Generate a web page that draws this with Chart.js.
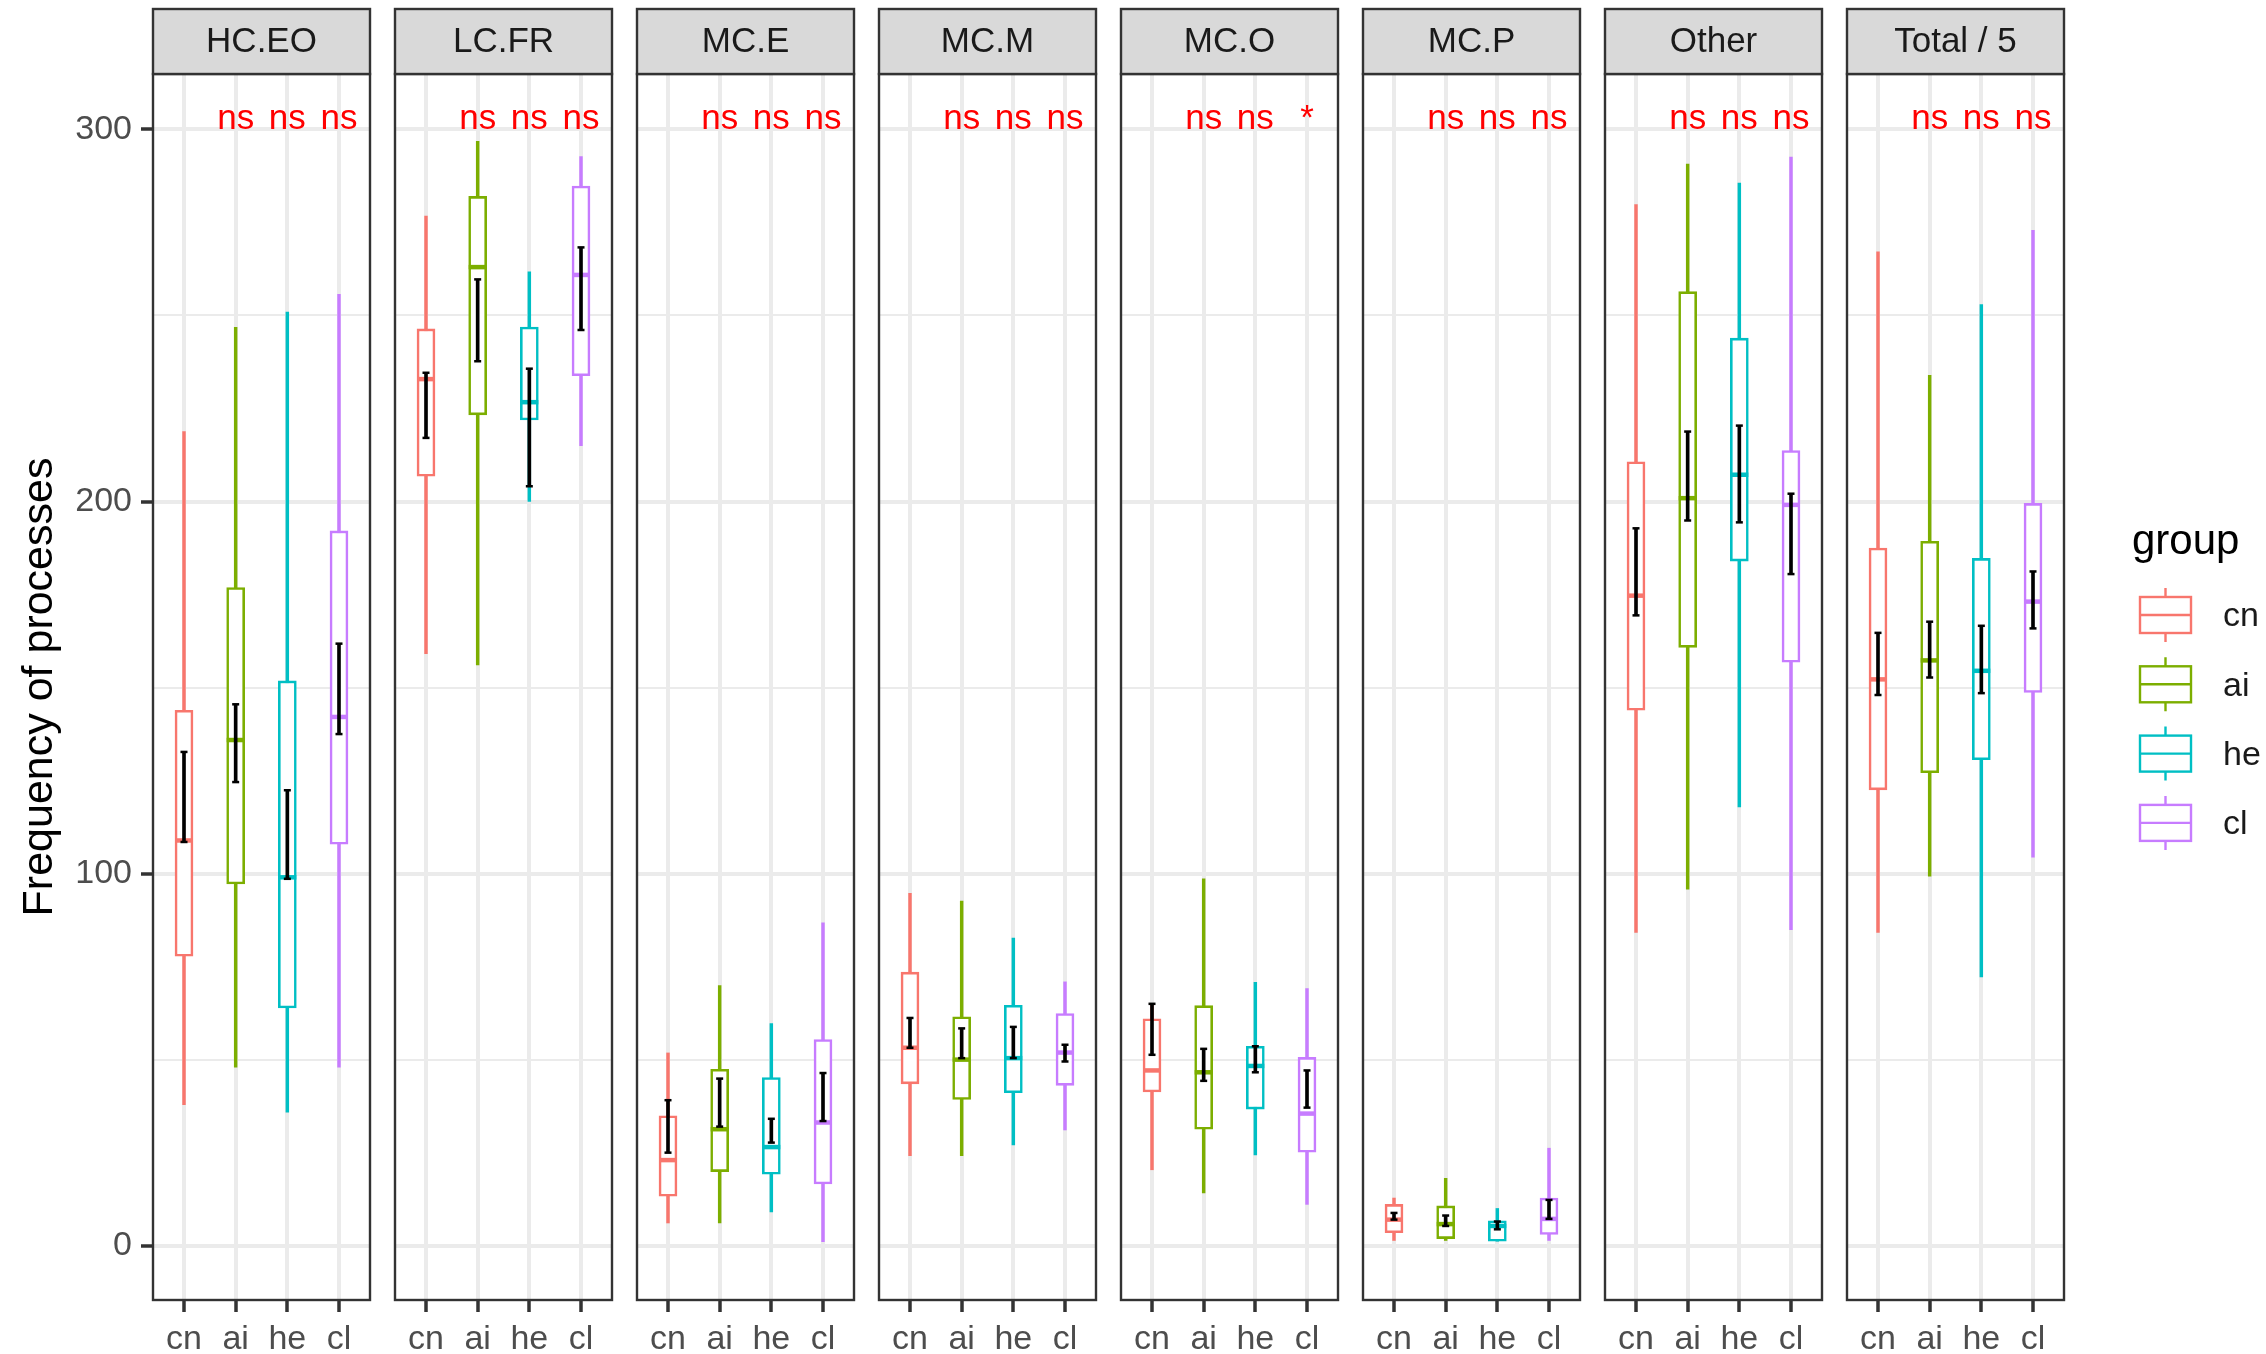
<!DOCTYPE html>
<html>
<head>
<meta charset="utf-8">
<script src="https://cdn.jsdelivr.net/npm/chart.js@4.4.1/dist/chart.umd.min.js"></script>
<style>
    html, body { margin: 0; padding: 0; background: #fff; }
    body { width: 2266px; height: 1354px; position: relative; overflow: hidden; }
    canvas { position: absolute; }
</style>
</head>
<body>
<script>
// --- data ---
const facets = ['HC.EO', 'LC.FR', 'MC.E', 'MC.M', 'MC.O', 'MC.P', 'Other', 'Total / 5'];
const groups = ['cn', 'ai', 'he', 'cl'];

// one row per facet, one value per group (cn, ai, he, cl)
const whiskerLow = [
    [37.9, 48.0, 35.9, 48.0],
    [159.1, 156.1, 200.0, 215.0],
    [6.1, 6.1, 9.1, 1.1],
    [24.2, 24.2, 27.1, 31.1],
    [20.4, 14.2, 24.4, 11.1],
    [1.4, 1.4, 1.2, 1.4],
    [84.2, 95.8, 117.9, 84.9],
    [84.2, 99.3, 72.2, 104.4]
];
const boxLow = [
    [77.8, 97.2, 63.9, 107.9],
    [206.8, 223.3, 221.9, 233.8],
    [13.3, 19.9, 19.2, 16.6],
    [43.5, 39.3, 41.1, 43.1],
    [41.3, 31.3, 36.7, 25.1],
    [3.5, 1.9, 1.2, 3.0],
    [143.9, 160.8, 184.0, 156.8],
    [122.5, 127.1, 130.6, 148.7]
];
const medians = [
    [108.9, 135.9, 99.0, 142.1],
    [232.9, 263.0, 226.7, 260.9],
    [23.0, 31.3, 26.5, 33.1],
    [53.2, 50.0, 50.4, 51.9],
    [47.1, 46.6, 48.3, 35.5],
    [7.0, 5.8, 5.3, 7.2],
    [174.7, 200.9, 207.2, 199.1],
    [152.2, 157.3, 154.5, 173.1]
];
const boxHigh = [
    [143.9, 176.9, 151.8, 192.1],
    [246.4, 282.0, 246.9, 284.8],
    [34.9, 47.4, 45.2, 55.4],
    [73.5, 61.5, 64.6, 62.4],
    [61.0, 64.5, 53.6, 50.6],
    [11.1, 10.7, 6.7, 12.8],
    [210.7, 256.4, 243.9, 213.7],
    [187.5, 189.3, 184.7, 199.5]
];
const whiskerHigh = [
    [218.8, 246.8, 250.9, 255.7],
    [276.7, 296.8, 261.7, 292.7],
    [51.8, 69.9, 59.7, 86.8],
    [94.7, 92.6, 82.7, 70.9],
    [64.9, 98.6, 70.8, 69.1],
    [12.8, 18.1, 10.0, 26.2],
    [279.8, 290.7, 285.6, 292.6],
    [267.1, 233.9, 252.9, 272.9]
];
const errLow = [
    [108.5, 124.6, 98.6, 137.5],
    [217.1, 237.7, 204.1, 246.1],
    [25.0, 32.0, 27.7, 33.5],
    [53.2, 50.4, 50.4, 49.5],
    [51.3, 44.3, 46.6, 37.1],
    [7.0, 5.3, 4.4, 7.2],
    [169.4, 194.9, 194.4, 180.5],
    [148.0, 152.7, 148.5, 165.9]
];
const errHigh = [
    [132.7, 145.5, 122.4, 161.8],
    [234.6, 259.7, 235.7, 268.3],
    [39.1, 44.9, 34.1, 46.4],
    [61.2, 58.4, 58.8, 54.0],
    [65.0, 52.9, 53.6, 47.1],
    [8.8, 8.1, 6.5, 12.3],
    [192.8, 218.8, 220.4, 202.1],
    [164.7, 167.7, 166.6, 181.2]
];
const sigLabels = [
    ['', 'ns', 'ns', 'ns'],
    ['', 'ns', 'ns', 'ns'],
    ['', 'ns', 'ns', 'ns'],
    ['', 'ns', 'ns', 'ns'],
    ['', 'ns', 'ns', '*'],
    ['', 'ns', 'ns', 'ns'],
    ['', 'ns', 'ns', 'ns'],
    ['', 'ns', 'ns', 'ns']
];
const sigLabelY = 300;
const yTickValues = [0, 50, 100, 150, 200, 250, 300];
const yTickLabels = ['0', '', '100', '', '200', '', '300'];

// --- styles / layout ---
const groupColors = ['#F8766D', '#7CAE00', '#00BFC4', '#C77CFF'];
const FONT = "'Liberation Sans', Arial, Helvetica, sans-serif";
const Y_MIN = -14.6, Y_MAX = 314.9;
const X_MIN = 0.4, X_MAX = 4.6;

const PANEL_LEFT0 = 153, PANEL_STEP = 242, PANEL_W = 217;
const STRIP_H = 65, CANVAS_TOP = 6, PAD_TOP = 68;
const PANEL_H = 1226, X_AXIS_H = 54;
const PAGE_W = 2266;

Chart.defaults.font.family = FONT;

const facetDecor = {
    id: 'facetDecor',
    afterDatasetsDraw(chart, args, opts) {
        const ctx = chart.ctx;
        const {left, right, top, bottom} = chart.chartArea;
        const xs = chart.scales.x, ys = chart.scales.y;
        ctx.save();

        // labels from the significance test
        ctx.font = `35px ${FONT}`;
        ctx.fillStyle = '#FF0000';
        ctx.textAlign = 'center';
        ctx.textBaseline = 'alphabetic';
        sigLabels[opts.facet].forEach((lab, j) => {
            if (lab) ctx.fillText(lab, xs.getPixelForValue(j + 1), ys.getPixelForValue(sigLabelY));
        });

        // panel border
        ctx.strokeStyle = '#333333';
        ctx.lineWidth = 2.4;
        ctx.strokeRect(left, top, right - left, bottom - top);

        // strip
        ctx.fillStyle = '#D9D9D9';
        ctx.fillRect(left, top - STRIP_H, right - left, STRIP_H);
        ctx.strokeRect(left, top - STRIP_H, right - left, STRIP_H);
        ctx.fillStyle = '#1A1A1A';
        ctx.font = `35px ${FONT}`;
        ctx.textBaseline = 'middle';
        ctx.fillText(facets[opts.facet], (left + right) / 2, top - STRIP_H / 2 + 1);
        ctx.restore();
    }
};

const groupLegend = {
    id: 'groupLegend',
    afterDraw(chart, args, opts) {
        if (!opts.show) return;
        const ctx = chart.ctx;
        const ox = opts.canvasLeft, oy = CANVAS_TOP;
        ctx.save();
        ctx.fillStyle = '#000';
        ctx.font = `42px ${FONT}`;
        ctx.textAlign = 'left';
        ctx.textBaseline = 'alphabetic';
        ctx.fillText('group', 2132 - ox, 554 - oy);

        ctx.font = `34px ${FONT}`;
        ctx.textBaseline = 'middle';
        groups.forEach((g, j) => {
            const cy = 615 + j * 69.3 - oy;
            const x0 = 2140 - ox, w = 51, h = 36;
            ctx.strokeStyle = groupColors[j];
            ctx.lineWidth = 2.4;
            ctx.strokeRect(x0, cy - h / 2, w, h);
            ctx.beginPath();
            ctx.moveTo(x0, cy); ctx.lineTo(x0 + w, cy);
            ctx.moveTo(x0 + w / 2, cy - h / 2); ctx.lineTo(x0 + w / 2, cy - h / 2 - 9);
            ctx.moveTo(x0 + w / 2, cy + h / 2); ctx.lineTo(x0 + w / 2, cy + h / 2 + 9);
            ctx.stroke();
            ctx.fillStyle = '#1A1A1A';
            ctx.fillText(g, 2223 - ox, cy + 2);
        });
        ctx.restore();
    }
};

function semPadding(s) {
    s.paddingLeft = 0;
    s.paddingRight = 0;
    s.paddingTop = 0;
    s.paddingBottom = 0;
}

function criarPainel(i) {
    const first = i === 0, last = i === facets.length - 1;
    const panelLeft = PANEL_LEFT0 + i * PANEL_STEP;
    const padLeft = first ? 0 : 3;
    const yWidth = first ? PANEL_LEFT0 : 0;
    const padRight = last ? PAGE_W - (panelLeft + PANEL_W) : 3;
    const canvasLeft = first ? 0 : panelLeft - 3;
    const width = padLeft + yWidth + PANEL_W + padRight;
    const height = PAD_TOP + PANEL_H + X_AXIS_H;

    const canvas = document.createElement('canvas');
    canvas.width = width;
    canvas.height = height;
    canvas.style.left = canvasLeft + 'px';
    canvas.style.top = CANVAS_TOP + 'px';
    canvas.style.width = width + 'px';
    canvas.style.height = height + 'px';
    document.body.appendChild(canvas);

    const pts = arr => arr[i].map((v, j) => ({x: j + 1, y: v}));
    const ranges = (lo, hi) => lo[i].map((v, j) => ({x: j + 1, y: [v, hi[i][j]]}));
    const caps = [];
    groups.forEach((g, j) => {
        caps.push({x: j + 1, y: errLow[i][j]});
        caps.push({x: j + 1, y: errHigh[i][j]});
    });

    return new Chart(canvas, {
        type: 'bar',
        data: {
            datasets: [
                {
                    label: 'whisker',
                    data: ranges(whiskerLow, whiskerHigh),
                    backgroundColor: groupColors,
                    barThickness: 2.8,
                    grouped: false,
                    order: 4
                },
                {
                    label: 'box',
                    data: ranges(boxLow, boxHigh),
                    backgroundColor: '#FFFFFF',
                    borderColor: groupColors,
                    borderWidth: 2.6,
                    borderSkipped: false,
                    barThickness: 18,
                    grouped: false,
                    order: 3
                },
                {
                    type: 'line',
                    label: 'median',
                    data: pts(medians),
                    showLine: false,
                    pointStyle: 'line',
                    pointRadius: 9,
                    pointHoverRadius: 9,
                    pointBorderWidth: 4.5,
                    pointBorderColor: groupColors,
                    order: 2
                },
                {
                    label: 'errorbar',
                    data: ranges(errLow, errHigh),
                    backgroundColor: '#000000',
                    barThickness: 3,
                    grouped: false,
                    order: 1
                },
                {
                    type: 'line',
                    label: 'caps',
                    data: caps,
                    showLine: false,
                    pointStyle: 'line',
                    pointRadius: 3.5,
                    pointHoverRadius: 3.5,
                    pointBorderWidth: 2.5,
                    pointBorderColor: '#000000',
                    order: 0
                }
            ]
        },
        options: {
            responsive: false,
            animation: false,
            events: [],
            layout: {
                autoPadding: false,
                padding: {left: padLeft, right: padRight, top: PAD_TOP, bottom: 0}
            },
            plugins: {
                legend: {display: false},
                tooltip: {enabled: false},
                facetDecor: {facet: i},
                groupLegend: {show: last, canvasLeft: canvasLeft}
            },
            scales: {
                x: {
                    type: 'linear',
                    min: X_MIN,
                    max: X_MAX,
                    bounds: 'data',
                    offset: false,
                    afterBuildTicks: s => { s.ticks = groups.map((g, j) => ({value: j + 1})); },
                    afterFit: s => { s.height = X_AXIS_H; semPadding(s); },
                    ticks: {
                        callback: (v, idx) => groups[idx],
                        font: {size: 34},
                        color: '#4D4D4D',
                        padding: 7,
                        autoSkip: false,
                        maxRotation: 0
                    },
                    grid: {
                        color: '#EBEBEB',
                        lineWidth: 4,
                        offset: false,
                        tickLength: 12,
                        tickWidth: 3.5,
                        tickColor: '#333333'
                    },
                    border: {display: false}
                },
                y: {
                    type: 'linear',
                    min: Y_MIN,
                    max: Y_MAX,
                    bounds: 'data',
                    beginAtZero: false,
                    afterBuildTicks: s => { s.ticks = yTickValues.map(v => ({value: v})); },
                    afterFit: s => { s.width = yWidth; semPadding(s); },
                    ticks: {
                        display: first,
                        callback: (v, idx) => yTickLabels[idx],
                        font: {size: 34},
                        color: '#4D4D4D',
                        padding: 9,
                        autoSkip: false
                    },
                    grid: {
                        color: '#EBEBEB',
                        lineWidth: c => (c.tick && c.tick.value % 100 === 0) ? 4 : 2,
                        drawTicks: first,
                        tickLength: 12,
                        tickWidth: 3.5,
                        tickColor: c => (c.tick && c.tick.value % 100 === 0) ? '#333333' : 'rgba(0,0,0,0)'
                    },
                    border: {display: false},
                    title: {
                        display: first,
                        text: 'Frequency of processes',
                        font: {size: 43},
                        color: '#000000',
                        padding: {top: 14, bottom: 0}
                    }
                }
            }
        },
        plugins: [facetDecor, groupLegend]
    });
}

facets.forEach((f, i) => criarPainel(i));
</script>
</body>
</html>
